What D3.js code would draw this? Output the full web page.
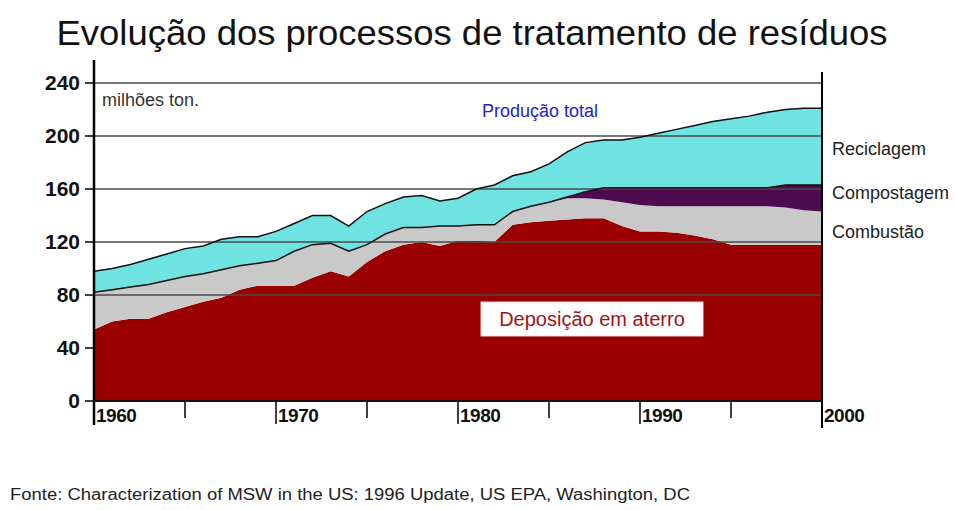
<!DOCTYPE html>
<html>
  <head>
    <meta charset="UTF-8">
    <script src="https://d3js.org/d3.v7.min.js"></script>
    <title>Evolução dos processos de tratamento de resíduos</title>
    <style>
      body { margin: 0; background: #fff; }
      svg { display: block; font-family: "Liberation Sans", Arial, sans-serif; }
    </style>
  </head>

  <body>
    <svg id="chart" width="956" height="510"></svg>
    <script>
    // years 1960..2000, values in millions of tons
    var years = d3.range(1960, 2001);
    var landfill = [54,60,62,62,67,71,75,78,84,87, 87,87,93,98,94,105,113,118,120,117,
                    121,121,120,133,135,136,137,138,138,132, 128,128,127,125,122,118,118,118,118,118, 118];
    var combustion = [28,24,24,26,24,23,21,21,18,17, 19,26,25,21,19,13,13,13,11,15,
                      11,12,13,10,12,14,16,15,14,18, 20,19,20,22,25,29,29,29,28,26, 25];
    var composting = [0,0,0,0,0,0,0,0,0,0, 0,0,0,0,0,0,0,0,0,0,
                      0,0,0,0,0,0,1,5,9,11, 13,14,14,14,14,14,14,14,17,19, 20];
    var recycling = [16,16,17,19,20,21,21,23,22,20, 22,21,22,21,19,25,23,23,24,19,
                     21,27,30,27,26,29,34,37,36,36, 38,41,44,47,50,52,54,57,57,58, 58];

    var keys = ["landfill", "combustion", "composting", "recycling"];
    var colors = {landfill: "#9b0000", combustion: "#c9c9c9", composting: "#4e0c50", recycling: "#6fe2e2"};
    var yTicks = [0, 40, 80, 120, 160, 200, 240];
    var gridValues = [80, 120, 160, 200, 240];
    var xTicks = [1960, 1965, 1970, 1975, 1980, 1985, 1990, 1995, 2000];
    var xLabels = [1960, 1970, 1980, 1990, 2000];

    var table = years.map(function(yr, i) {
      return {year: yr, landfill: landfill[i], combustion: combustion[i],
              composting: composting[i], recycling: recycling[i]};
    });

    var svg = d3.select("#chart");
    var x = d3.scaleLinear().domain([1960, 2000]).range([94, 822]);
    var y = d3.scaleLinear().domain([0, 240]).range([401, 83]);

    var series = d3.stack().keys(keys)(table);

    var area = d3.area()
      .x(function(d) { return x(d.data.year); })
      .y0(function(d) { return y(d[0]); })
      .y1(function(d) { return y(d[1]); });

    svg.append("g").selectAll("path")
      .data(series)
      .enter().append("path")
      .attr("d", area)
      .attr("fill", function(d) { return colors[d.key]; });

    // gridlines on top of the areas
    svg.append("g").selectAll("line")
      .data(gridValues)
      .enter().append("line")
      .attr("x1", x(1960)).attr("x2", x(2000))
      .attr("y1", function(d) { return y(d); })
      .attr("y2", function(d) { return y(d); })
      .attr("stroke", "#4a4a4a")
      .attr("stroke-width", 1.5);

    // outlines: total and bottom of recycling
    var line = d3.line()
      .x(function(d) { return x(d.data.year); })
      .y(function(d) { return y(d[1]); });
    svg.append("path").attr("d", line(series[3]))
      .attr("fill", "none").attr("stroke", "#111").attr("stroke-width", 1.5);
    svg.append("path").attr("d", line(series[2]))
      .attr("fill", "none").attr("stroke", "#111").attr("stroke-width", 1.5);

    // axes
    svg.append("line").attr("x1", x(1960)).attr("x2", x(1960))
      .attr("y1", 60).attr("y2", 425).attr("stroke", "#000").attr("stroke-width", 2.5);
    svg.append("line").attr("x1", x(2000)).attr("x2", x(2000))
      .attr("y1", 72).attr("y2", 428).attr("stroke", "#000").attr("stroke-width", 2);
    svg.append("line").attr("x1", x(1960)).attr("x2", x(2000))
      .attr("y1", y(0)).attr("y2", y(0)).attr("stroke", "#111").attr("stroke-width", 2);

    var yAxis = svg.append("g");
    yAxis.selectAll("line").data(yTicks).enter().append("line")
      .attr("x1", 85).attr("x2", x(1960))
      .attr("y1", function(d) { return y(d); })
      .attr("y2", function(d) { return y(d); })
      .attr("stroke", "#000").attr("stroke-width", 1.5);
    yAxis.selectAll("text").data(yTicks).enter().append("text")
      .attr("x", 80)
      .attr("y", function(d) { return y(d) + 7; })
      .attr("text-anchor", "end")
      .attr("font-size", 21).attr("font-weight", "bold").attr("fill", "#111")
      .text(function(d) { return d; });

    var xAxis = svg.append("g");
    xAxis.selectAll("line").data(xTicks.slice(1, -1)).enter().append("line")
      .attr("x1", function(d) { return x(d); })
      .attr("x2", function(d) { return x(d); })
      .attr("y1", y(0))
      .attr("y2", function(d) { return d % 10 == 0 ? 424 : 418; })
      .attr("stroke", "#000").attr("stroke-width", 1.5);
    xAxis.selectAll("text").data(xLabels).enter().append("text")
      .attr("x", function(d) { return x(d) + 2; })
      .attr("y", 422)
      .attr("font-size", 19).attr("font-weight", "bold").attr("fill", "#111")
      .attr("letter-spacing", -0.5)
      .text(function(d) { return d; });

    // title and annotations
    svg.append("text").attr("x", 472).attr("y", 45)
      .attr("text-anchor", "middle").attr("font-size", 35).attr("fill", "#111")
      .attr("textLength", 831).attr("lengthAdjust", "spacingAndGlyphs")
      .text("Evolução dos processos de tratamento de resíduos");

    svg.append("text").attr("x", 102).attr("y", 106)
      .attr("font-size", 18).attr("fill", "#333").text("milhões ton.");

    svg.append("text").attr("x", 482).attr("y", 117)
      .attr("font-size", 18).attr("fill", "#2323c8").text("Produção total");

    var sideLabels = [["Reciclagem", 155], ["Compostagem", 199], ["Combustão", 238]];
    svg.append("g").selectAll("text").data(sideLabels).enter().append("text")
      .attr("x", x(2000) + 10)
      .attr("y", function(d) { return d[1]; })
      .attr("font-size", 18).attr("fill", "#222")
      .text(function(d) { return d[0]; });

    svg.append("rect").attr("x", 481).attr("y", 302).attr("width", 222).attr("height", 34)
      .attr("fill", "#fff").attr("stroke", "#f0d8d8").attr("stroke-width", 1);
    svg.append("text").attr("x", 592).attr("y", 326)
      .attr("text-anchor", "middle").attr("font-size", 20).attr("fill", "#a01414")
      .text("Deposição em aterro");

    svg.append("text").attr("x", 10).attr("y", 500)
      .attr("font-size", 16).attr("fill", "#222")
      .attr("textLength", 680).attr("lengthAdjust", "spacingAndGlyphs")
      .text("Fonte: Characterization of MSW in the US: 1996 Update, US EPA, Washington, DC");
    </script>
  </body>
</html>
